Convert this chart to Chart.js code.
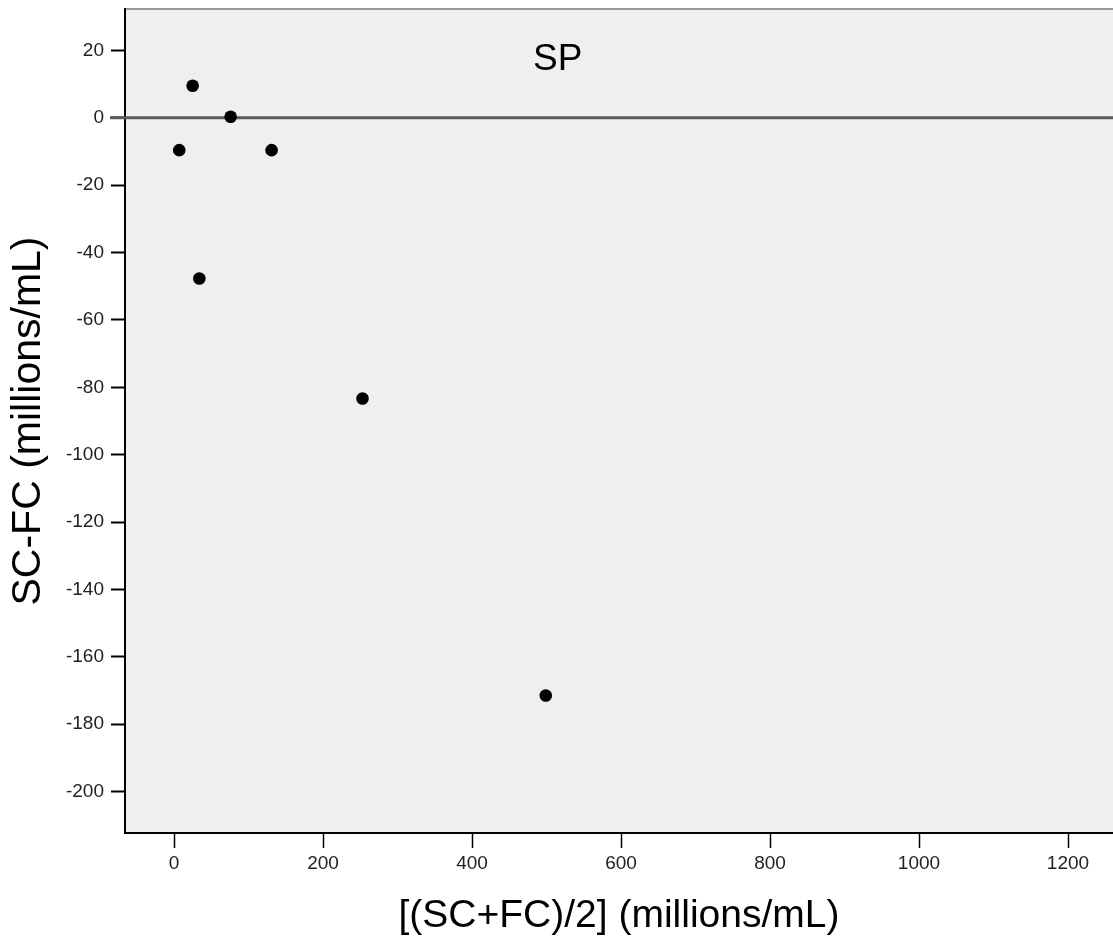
<!DOCTYPE html>
<html>
<head>
<meta charset="utf-8">
<script src="https://cdn.jsdelivr.net/npm/chart.js@4.4.1/dist/chart.umd.min.js"></script>
<style>
  html, body { margin: 0; padding: 0; background: #fff; }
  #wrap { width: 1113px; height: 943px; }
</style>
</head>
<body>
<div id="wrap"><canvas id="baChart" width="1113" height="943"></canvas></div>
<script>
'use strict';

// Bland-Altman style plot, SP group
const meanVals = [7, 25, 76, 131, 34, 253, 499];               // [(SC+FC)/2]
const diffVals = [-9.6, 9.5, 0.3, -9.6, -47.7, -83.3, -171.5]; // SC-FC
const xTicks   = [0, 200, 400, 600, 800, 1000, 1200];
const yTicks   = [20, 0, -20, -40, -60, -80, -100, -120, -140, -160, -180, -200];

const FONT = "'Liberation Sans', Arial, sans-serif";

// ── background, zero line, panel label ──────────────────
const plotDecor = {
  id: 'plotDecor',
  beforeDraw(chart) {
    const { ctx, chartArea: a } = chart;
    ctx.save();
    ctx.fillStyle = '#efefef';
    ctx.fillRect(a.left, a.top, a.right - a.left, a.bottom - a.top);
    ctx.strokeStyle = '#9a9a9a';
    ctx.lineWidth = 2;
    ctx.beginPath();
    ctx.moveTo(a.left, a.top);
    ctx.lineTo(a.right, a.top);
    ctx.stroke();
    ctx.restore();
  },
  beforeDatasetsDraw(chart) {
    const { ctx, chartArea: a, scales } = chart;
    const y0 = scales.y.getPixelForValue(0);
    ctx.save();
    ctx.strokeStyle = '#5c5c5c';
    ctx.lineWidth = 3;
    ctx.beginPath();
    ctx.moveTo(a.left - 15, y0);
    ctx.lineTo(a.right, y0);
    ctx.stroke();
    ctx.restore();
  },
  afterDatasetsDraw(chart) {
    const { ctx, chartArea: a } = chart;
    ctx.save();
    ctx.fillStyle = '#000';
    ctx.font = '37px ' + FONT;
    ctx.textAlign = 'center';
    ctx.textBaseline = 'middle';
    ctx.fillText('SP', a.left + 0.438 * (a.right - a.left), a.top + 51);
    ctx.restore();
  }
};

new Chart(document.getElementById('baChart').getContext('2d'), {
  type: 'scatter',
  data: {
    datasets: [{
      data: meanVals.map((x, i) => ({ x: x, y: diffVals[i] })),
      backgroundColor: '#000',
      borderWidth: 0,
      pointRadius: 6.3,
      pointHoverRadius: 6.3
    }]
  },
  options: {
    responsive: false,
    animation: false,
    layout: { autoPadding: false, padding: { top: 9, right: 0, left: 0, bottom: 0 } },
    plugins: {
      legend: { display: false },
      tooltip: { enabled: false }
    },
    scales: {
      x: {
        type: 'linear',
        min: -65.8, max: 1260.4,
        afterBuildTicks: s => { s.ticks = xTicks.map(v => ({ value: v })); },
        afterFit: s => { s.height = 110; s.paddingLeft = 0; s.paddingRight = 0; },
        grid: { drawOnChartArea: false, tickLength: 15, tickColor: '#000', tickWidth: 1.5 },
        border: { color: '#000', width: 2 },
        ticks: {
          font: { family: FONT, size: 19 }, color: '#222', padding: 4,
          maxRotation: 0, autoSkip: false, callback: v => String(v)
        },
        title: {
          display: true, text: '[(SC+FC)/2] (millions/mL)', color: '#000',
          font: { family: FONT, size: 39 }, padding: { top: 0, bottom: 3 }
        }
      },
      y: {
        type: 'linear',
        min: -212.3, max: 32.3,
        afterBuildTicks: s => { s.ticks = yTicks.map(v => ({ value: v })); },
        afterFit: s => { s.width = 125; s.paddingTop = 0; s.paddingBottom = 0; },
        grid: { drawOnChartArea: false, tickLength: 14, tickColor: '#000', tickWidth: 2 },
        border: { color: '#000', width: 2 },
        ticks: {
          font: { family: FONT, size: 19 }, color: '#222', padding: 7,
          autoSkip: false, callback: v => String(v)
        },
        title: {
          display: true, text: 'SC-FC (millions/mL)', color: '#000',
          font: { family: FONT, size: 41 }, padding: { top: 4, bottom: 0 }
        }
      }
    }
  },
  plugins: [plotDecor]
});
</script>
</body>
</html>
